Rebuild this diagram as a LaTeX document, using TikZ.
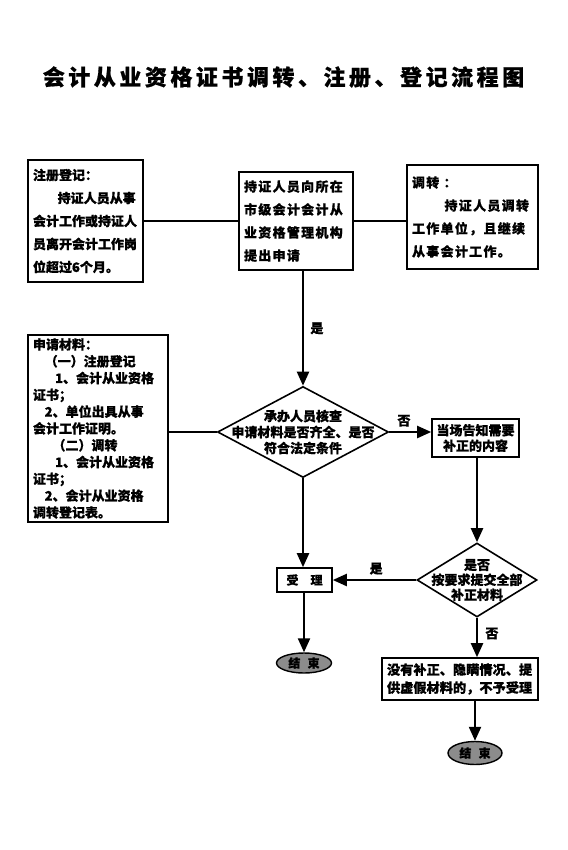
\documentclass[tikz,border=0pt]{standalone}
\usepackage{fontspec}
\newfontfamily\cjk{Noto Sans CJK SC}[BoldFeatures={FakeBold=0.6}]
\newfontfamily\cjkw{Noto Sans CJK SC}[LetterSpace=10,BoldFeatures={FakeBold=0.6}]
\newfontfamily\cjkt{Noto Sans CJK SC}[LetterSpace=16,BoldFeatures={FakeBold=0.8}]
\usetikzlibrary{arrows.meta,shapes.geometric}
\begin{document}
\begin{tikzpicture}[x=1pt,y=-1pt,line join=miter,>={Triangle[length=14pt,width=12pt]},
  box/.style={draw,line width=1.6pt,inner xsep=5pt,inner ysep=0pt},
  tbox/.style={box,font={\cjk\bfseries\fontsize{13pt}{23pt}\selectfont},align=left},
  wbox/.style={box,font={\cjkw\bfseries\fontsize{13pt}{23pt}\selectfont},align=left},
  chk/.style={draw,diamond,line width=1.6pt,inner sep=0pt},
  stopnode/.style={draw,ellipse,line width=1.4pt,fill=black!45,inner sep=0pt,
    font={\cjk\bfseries\fontsize{12pt}{14pt}\selectfont}},
  lbl/.style={font={\cjk\bfseries\fontsize{13pt}{15pt}\selectfont}},
  conn/.style={line width=1.8pt},
  flow/.style={line width=2.2pt,->}]
  \useasboundingbox[fill=white] (0,0) rectangle (567,850);
  \node[font={\cjkt\bfseries\fontsize{22pt}{26pt}\selectfont}] (title) at (283.5,77)
    {会计从业资格证书调转、注册、登记流程图};
  % top row
  \node[tbox,text width=105pt,minimum height=122pt] (reg) at (85.5,221)
    {注册登记：\\ \hspace*{1.9em}持证人员从事\\ 会计工作或持证人\\ 员离开会计工作岗\\ 位超过6个月。};
  \node[wbox,text width=104pt,minimum height=98pt] (apply) at (296,221)
    {持证人员向所在\\ 市级会计会计从\\ 业资格管理机构\\ 提出申请};
  \node[wbox,text width=121pt,minimum height=104pt] (trans) at (472.5,217)
    {调转 ：\\ \hspace*{2.5em}持证人员调转\\ 工作单位，且继续\\ 从事会计工作。};
  \draw[conn] (reg.east) -- (apply.west);
  \draw[conn] (apply.east) -- (apply.east -| trans.west);
  % check
  \node[chk,minimum width=171pt,minimum height=91pt] (check) at (303,432) {};
  \node[align=center,inner sep=0pt,font={\cjk\bfseries\fontsize{13pt}{16pt}\selectfont}] (checktxt)
    at (check) {承办人员核查\\ 申请材料是否齐全、是否\\ 符合法定条件};
  \node[box,align=left,text width=130pt,minimum height=187pt,
    font={\cjk\bfseries\fontsize{13pt}{16.8pt}\selectfont}] (material) at (98,428.5)
    {申请材料：\\ \hspace*{0.9em}（一）注册登记\\ \hspace*{1.7em}1、会计从业资格\\ 证书；\\
     \hspace*{0.9em}2、单位出具从事\\ 会计工作证明。\\ \hspace*{1.5em}（二）调转\\
     \hspace*{1.7em}1、会计从业资格\\ 证书；\\ \hspace*{0.9em}2、会计从业资格\\ 调转登记表。};
  \node[box,align=center,text width=78pt,inner xsep=4.5pt,minimum height=38pt,
    font={\cjk\bfseries\fontsize{13pt}{15.5pt}\selectfont}] (fix) at (475.5,438)
    {当场告知需要\\ 补正的内容};
  \draw[flow] (check.north |- apply.south) -- (check.north)
    node[lbl,pos=0.5,right=3pt] (yes1) {是};
  \draw[conn] (check.west -| material.east) -- (check.west);
  \draw[flow] (check.east) -- (check.east -| fix.west)
    node[lbl,pos=0.35,above=1pt] (no1) {否};
  % recheck
  \node[chk,minimum width=120pt,minimum height=74pt] (recheck) at (477,580) {};
  \node[align=center,inner sep=0pt,font={\cjk\bfseries\fontsize{13pt}{15pt}\selectfont}] (rechecktxt)
    at (recheck) {是否\\ 按要求提交全部\\ 补正材料};
  \node[box,align=center,minimum width=55pt,minimum height=24pt,
    font={\cjk\bfseries\fontsize{12pt}{14pt}\selectfont}] (accept) at (304.5,580) {受\hspace{1em}理};
  \node[box,align=left,text width=146pt,minimum height=42pt,
    font={\cjk\bfseries\fontsize{13.2pt}{18pt}\selectfont}] (reject) at (460,679)
    {没有补正、隐瞒情况、提\\ 供虚假材料的，不予受理};
  \node[stopnode,minimum width=55pt,minimum height=20pt] (end1) at (304,663) {结\hspace{0.6em}束};
  \node[stopnode,minimum width=54pt,minimum height=23pt] (end2) at (475,753) {结\hspace{0.6em}束};
  \draw[flow] (fix.south -| recheck.north) -- (recheck.north);
  \draw[flow] (recheck.west) -- (accept.east)
    node[lbl,pos=0.48,above=1pt] (yes2) {是};
  \draw[flow] (check.south) -- (check.south |- accept.north);
  \draw[flow] (accept.south -| end1.north) -- (end1.north);
  \draw[flow] (recheck.south) -- (recheck.south |- reject.north)
    node[lbl,pos=0.4,right=4pt] (no2) {否};
  \draw[flow] (end2.north |- reject.south) -- (end2.north);
\end{tikzpicture}
\end{document}
